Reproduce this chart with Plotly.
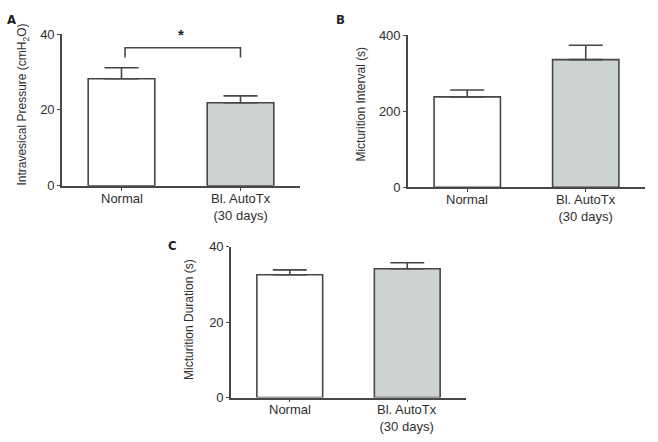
import plotly.graph_objects as go

W, H = 658, 442

categories = ["Normal", "Bl. AutoTx<br>(30 days)"]

# Panel A: Intravesical pressure (cmH2O)
pressure_mean = [28.2, 21.9]
pressure_sem = [2.9, 1.8]

# Panel B: Micturition interval (s)
interval_mean = [238, 336]
interval_sem = [18, 38]

# Panel C: Micturition duration (s)
duration_mean = [32.6, 34.2]
duration_sem = [1.3, 1.6]

# Significance bracket (panel A)
bracket_x = [0.03, 0.03, 1.0, 1.0]
bracket_y = [33.8, 36.4, 36.4, 33.8]

bar_colors = ["#ffffff", "#cdd3d3"]
line_col = "#474747"
text_col = "#2e2e2e"
font_fam = "Liberation Sans, Arial, sans-serif"
letter_fam = "Liberation Sans Narrow, DejaVu Sans Condensed, Liberation Sans"


def px_x(p):
    return p / W


def px_y(p):
    return 1 - p / H


panels = [
    ("x", "y", (62, 300), (28, 185), pressure_mean, pressure_sem, [0, 40], 20),
    ("x2", "y2", (408, 645), (29.3, 186.7), interval_mean, interval_sem, [0, 400], 200),
    ("x3", "y3", (231, 466), (248.3, 404.3), duration_mean, duration_sem, [0, 40], 20),
]

fig = go.Figure()
layout = dict(
    width=W, height=H,
    margin=dict(l=0, r=0, t=0, b=0),
    paper_bgcolor="white", plot_bgcolor="white",
    showlegend=False,
    font=dict(family=font_fam, size=13, color=text_col),
)

annotations = []
for xa, ya, (x0, x1), (yt, yb), vals, errs, yr, dt in panels:
    fig.add_trace(go.Bar(
        x=[0, 1], y=vals,
        width=0.56,
        marker=dict(color=bar_colors, line=dict(color=line_col, width=1.6)),
        error_y=dict(type="data", symmetric=False, array=errs,
                     arrayminus=[0, 0], color=line_col, thickness=1.6, width=17),
        xaxis=xa, yaxis=ya,
    ))
    xkey = "xaxis" + xa[1:]
    ykey = "yaxis" + ya[1:]
    layout[xkey] = dict(
        domain=[px_x(x0), px_x(x1)], range=[-0.5, 1.5], anchor=ya,
        tickmode="array", tickvals=[0, 1], showticklabels=False,
        showline=True, linecolor=line_col, linewidth=1.6,
        ticks="outside", ticklen=3, tickcolor=line_col, tickwidth=1,
        showgrid=False, zeroline=False, fixedrange=True,
    )
    layout[ykey] = dict(
        domain=[px_y(yb), px_y(yt)], range=yr, anchor=xa,
        tickmode="linear", tick0=0, dtick=dt,
        showline=True, linecolor=line_col, linewidth=1.6,
        ticks="outside", ticklen=3, tickcolor=line_col, tickwidth=1,
        showgrid=False, zeroline=False, fixedrange=True,
        tickfont=dict(size=13, color=text_col),
    )
    # category labels placed just under the axis
    for i, c in enumerate(categories):
        annotations.append(dict(
            text=c, x=i, xref=xa, y=px_y(yb + 3), yref="paper",
            xanchor="center", yanchor="top", showarrow=False,
            font=dict(size=13, color=text_col, family=font_fam),
        ))

# significance bracket
fig.add_trace(go.Scatter(x=bracket_x, y=bracket_y, mode="lines",
                         line=dict(color=line_col, width=1.6),
                         xaxis="x", yaxis="y", hoverinfo="skip"))

annotations += [
    dict(text="<b>*</b>", x=0.5, y=37.0, xref="x", yref="y", showarrow=False,
         xanchor="center", yanchor="bottom", font=dict(size=15, color="#222222")),
    dict(text="Intravesical Pressure (cmH<sub>2</sub>O)", textangle=-90,
         x=px_x(23), y=px_y(101), xref="paper", yref="paper", showarrow=False,
         xanchor="center", yanchor="middle",
         font=dict(size=12, color=text_col)),
    dict(text="Micturition Interval (s)", textangle=-90,
         x=px_x(361), y=px_y(101), xref="paper", yref="paper", showarrow=False,
         xanchor="center", yanchor="middle",
         font=dict(size=12, color=text_col)),
    dict(text="Micturition Duration (s)", textangle=-90,
         x=px_x(189), y=px_y(324), xref="paper", yref="paper", showarrow=False,
         xanchor="center", yanchor="middle",
         font=dict(size=12, color=text_col)),
    dict(text="<b>A</b>", x=px_x(5), y=px_y(3), xref="paper", yref="paper",
         xanchor="left", yanchor="top", showarrow=False,
         font=dict(size=13, color="#222222", family=letter_fam)),
    dict(text="<b>B</b>", x=px_x(334), y=px_y(3), xref="paper", yref="paper",
         xanchor="left", yanchor="top", showarrow=False,
         font=dict(size=13, color="#222222", family=letter_fam)),
    dict(text="<b>C</b>", x=px_x(166), y=px_y(237), xref="paper", yref="paper",
         xanchor="left", yanchor="top", showarrow=False,
         font=dict(size=13, color="#222222", family=letter_fam)),
]
layout["annotations"] = annotations
fig.update_layout(**layout)

fig.write_html("out.html")
